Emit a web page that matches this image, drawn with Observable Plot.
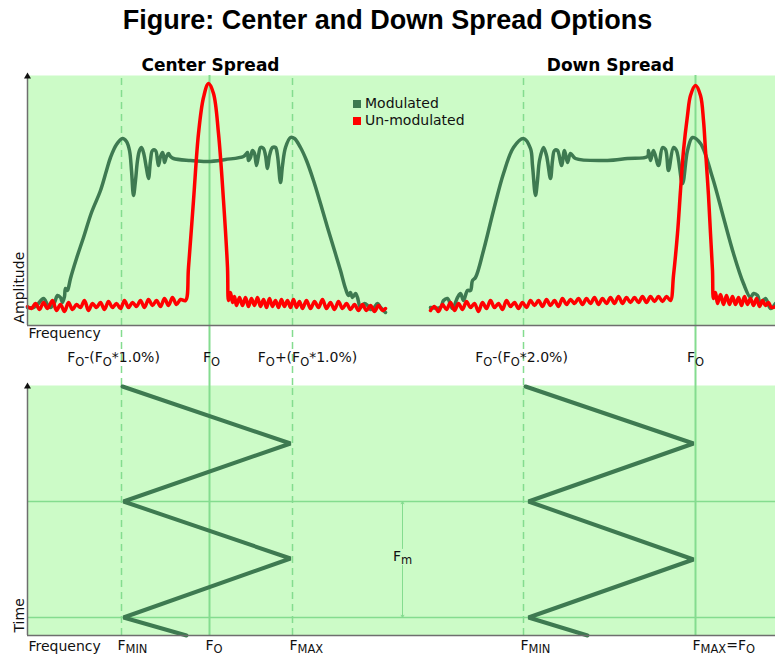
<!DOCTYPE html>
<html><head><meta charset="utf-8">
<script src="https://cdn.jsdelivr.net/npm/d3@7"></script>
<script src="https://cdn.jsdelivr.net/npm/@observablehq/plot@0.6"></script>
<style>
body{margin:0;background:#fff;width:775px;position:relative;}
#title{box-sizing:border-box;height:45px;padding-top:5px;line-height:36px;text-align:center;font:bold 27px "Liberation Sans",Arial,sans-serif;color:#000;overflow:hidden;}
svg{display:block;}
#legend{position:absolute;left:353px;top:95px;font:14px "DejaVu Sans",sans-serif;line-height:17px;color:#111;}
#legend .sw{display:inline-block;width:8px;height:8px;margin-right:4px;vertical-align:0px;}
</style></head><body>
<div id="title">Figure: Center and Down Spread Options</div>
<div id="top"></div>
<div id="bottom"></div>
<div id="legend"></div>
<script>
// ---------- data (frequency in arbitrary units, amplitude / time in arbitrary units) ----------
const modulatedCenter = [[0,9],[3,9],[5,10.5],[8,13.5],[10,10.5],[11.5,9],[13.5,11.5],[15,15],[16.5,14],[17.5,11.5],[18.5,14.5],[19,18.5],[20,17.5],[20.5,19],[21.5,23.5],[24.5,33.5],[28,44],[32,56.5],[36.5,67.5],[39.5,77.5],[41.5,84],[44.5,90.5],[47.5,93.5],[49.5,92],[51,87.5],[52,77.5],[53,65],[54,72.5],[55,82.5],[56,87.5],[57,89],[58,86.5],[59.5,78.5],[60.5,73.5],[61.5,82.5],[62.5,87.5],[64,87.5],[65,82.5],[65.5,80],[66.5,84.5],[67.5,86.5],[68,85],[68.5,81.5],[69.5,84.5],[70.5,86],[71.5,84.5],[73,83.5],[81.5,82.5],[90,82],[99,83],[108,84.5],[109.5,86],[110,86.5],[110.5,82.5],[111.5,84],[112.5,87.5],[113.5,86],[114.5,80],[115.5,85],[116.5,89],[118,88.5],[119,85],[120,78.5],[121,85],[122.5,89],[124,89],[125,85],[126.5,71.5],[127.5,80],[129,89],[131.5,94],[133.5,93.5],[136.5,89],[139.5,82.5],[143,72.5],[146.5,61],[150,49],[153.5,37.5],[156.5,27.5],[159,18.5],[160.5,15],[161.5,16.5],[162.5,14],[164,16],[165,14],[166.5,9],[168.5,11],[170,10],[171.5,8],[173,8.5],[175,11],[176.5,9],[178,7.5],[179,6.5]];
const unmodulatedCenter = [[0,9.5],[2,8.5],[4,11],[6,8],[8,11.5],[10,8.5],[12.5,12.5],[14.5,7.5],[16.5,10.5],[18.5,7],[20.5,11.5],[22.5,8],[24.5,10.5],[26.5,9],[28.5,12.5],[30.5,7.5],[32.5,11],[34.5,9],[36.5,11.5],[38.5,8],[40.5,12],[42.5,9],[44.5,11],[46.5,8.5],[48.5,12.5],[50.5,9],[52.5,11.5],[54.5,9.5],[56.5,12.5],[58.5,9],[60.5,13],[62.5,10],[64.5,12.5],[66.5,9.5],[68.5,13.5],[70.5,10],[72.5,14],[74.5,10.5],[76.5,13],[79,12.5],[80.5,29],[83,62.5],[85.5,96],[88,114],[90.5,121],[93,116],[95.5,96],[98,62.5],[100,29],[100.5,12.5],[101.5,16.5],[102.5,11.5],[103.5,14.5],[104.5,10],[106,14],[107.5,10],[109,14],[110.5,9.5],[112,13.5],[113.5,10],[115,14],[116.5,9.5],[118,13],[119.5,9],[121,13.5],[122.5,9.5],[124,12.5],[125.5,9],[127,13],[128.5,9.5],[130,12.5],[131.5,9],[133,13],[134.5,9],[136,12],[137.5,8.5],[139.5,12.5],[141.5,8.5],[143.5,12],[145.5,9],[147.5,13],[149.5,8.5],[151.5,11.5],[153.5,8],[155.5,12],[157.5,8.5],[159.5,11],[161.5,8],[163.5,10.5],[165.5,7.5],[167.5,10.5],[169.5,7.5],[171.5,10],[173.5,7],[175.5,10],[177.5,7.5],[179,8.5]];
const modulatedDown = [[201.5,9],[206.5,9],[208,12.5],[210,13.5],[212.5,8.5],[215,14],[216.5,16],[218,12.5],[220,17.5],[221.5,17.5],[222.5,22.5],[224,24],[228,37.5],[233,57.5],[238,76],[243,89],[248,93.5],[251.5,88.5],[252.5,80],[254,65],[255,72.5],[256,82.5],[258,89],[259.5,85],[261.5,73.5],[262.5,82.5],[263.5,87.5],[265,87.5],[267,80],[268.5,87.5],[270,81.5],[271.5,86],[274,83.5],[290,82.5],[300,83.5],[310,84.5],[310.5,87.5],[311.5,82.5],[313,87.5],[315.5,80],[317.5,89],[319,88],[320.5,77.5],[323,89],[324.5,87.5],[327.5,71],[330,87.5],[332.5,94],[336.5,91],[342.5,74],[348,54],[353,36],[358,21],[361.5,14],[363,16],[365,15],[366.5,11],[369,13.5],[371.5,8.5],[374,11]];
const unmodulatedDown = [[201.5,7.5],[203.5,9.5],[205.5,7],[207.5,10.5],[209.5,8],[211.5,11.5],[213.5,7.5],[215.5,11],[217.5,8],[219.5,12],[221.5,9],[223.5,11],[225.5,7],[227.5,11.5],[229.5,8.5],[231.5,12.5],[233.5,9],[235.5,11],[237.5,8],[239.5,12.5],[241.5,9.5],[243.5,11.5],[245.5,8.5],[247.5,11.5],[249.5,9],[251.5,12.5],[253.5,10],[255.5,12.5],[257.5,9.5],[259.5,13],[261.5,10],[263.5,12.5],[265.5,9.5],[267.5,13.5],[269.5,10.5],[271.5,13],[273.5,11],[275.5,13.5],[277.5,10.5],[279.5,13.5],[281.5,11],[283.5,14],[285.5,10.5],[287.5,13.5],[289.5,11],[291.5,14],[293.5,11],[295.5,14.5],[297.5,11],[299.5,14],[301.5,11.5],[303.5,14],[305.5,11.5],[307.5,14.5],[309.5,11.5],[311.5,14.5],[313.5,12],[315.5,14.5],[317.5,12],[319.5,14.5],[321.5,12.5],[323,25],[325,46],[326.5,67.5],[328,87.5],[330,105],[331.5,115],[334,120],[336.5,115],[338,102.5],[339,87.5],[340.5,65],[341.5,46],[342.5,27.5],[343,13.5],[344,16.5],[345,11],[346.5,15.5],[348,10.5],[349.5,15],[351,10.5],[352.5,14.5],[354,10.5],[355.5,14],[357,10],[358.5,14.5],[360,10.5],[361.5,13.5],[363,10],[364.5,13.5],[366,9.5],[367.5,12.5],[369,10],[370.5,11.5],[372,9],[374,9.5]];

const sweepCenter = [[47.5,124.5],[131.5,96],[48,67],[131.5,38.5],[48,9],[79.5,0]];
const sweepDown = [[249,124.5],[333,96],[250.5,67],[333,38],[250.5,9],[280,0]];

const guideFreqs = [47, 91, 132.5, 248, 334];
const guideDashed = [true, false, true, true, false];
const periodTimes = [67, 9];
const fmFreq = 187.5;

const panelTitles = ["Center Spread", "Down Spread"];
const panelTitleFreqs = [91.5, 291.5];
const topTickLabels = ["F{O}-(F{O}*1.0%)", "F{O}", "F{O}+(F{O}*1.0%)", "F{O}-(F{O}*2.0%)", "F{O}"];
const topTickFreqs = [43, 92, 140, 247, 334];
const bottomTickLabels = ["F{MIN}", "F{O}", "F{MAX}", "F{MIN}", "F{MAX}=F{O}"];
const bottomTickFreqs = [45, 89, 131, 246.5, 332.5];
const legendLabels = ["Modulated", "Un-modulated"];

// ---------- styles ----------
const BG = "#ccfbc7", GUIDE = "#84dc8f", DARK = "#3e7a51", RED = "#ff0000", AXIS = "#6e6e6e";
const FONT = "'DejaVu Sans', Verdana, sans-serif";
const X_DOMAIN = [0, 374];

const rows = (pairs, panel, key) => pairs.map(([f, v]) => ({f, [key]: v, panel}));
const modulated = [...rows(modulatedCenter, "center", "a"), ...rows(modulatedDown, "down", "a")];
const unmodulated = [...rows(unmodulatedCenter, "center", "a"), ...rows(unmodulatedDown, "down", "a")];
const sweep = [...rows(sweepCenter, "center", "t"), ...rows(sweepDown, "down", "t")];
const guides = guideFreqs.map((f, i) => ({f, dashed: guideDashed[i]}));
const topTicks = topTickLabels.map((label, i) => ({label, f: topTickFreqs[i]}));
const bottomTicks = bottomTickLabels.map((label, i) => ({label, f: bottomTickFreqs[i]}));
const titles = panelTitles.map((label, i) => ({label, f: panelTitleFreqs[i]}));

function applySubscripts(svg, shift) {
  svg.querySelectorAll("text").forEach(t => {
    const s = t.textContent;
    if (!s.includes("{")) return;
    t.textContent = "";
    let shifted = false;
    for (const part of s.split(/(\{[^}]*\})/)) {
      if (!part) continue;
      const ts = document.createElementNS("http://www.w3.org/2000/svg", "tspan");
      if (part[0] === "{") {
        ts.textContent = part.slice(1, -1);
        ts.setAttribute("font-size", "0.82em");
        ts.setAttribute("dy", shift);
        shifted = true;
      } else {
        ts.textContent = part;
        if (shifted) { ts.setAttribute("dy", -shift); shifted = false; }
      }
      t.appendChild(ts);
    }
  });
}

const guideMarks = (y1, y2) => [
  Plot.ruleX(guides.filter(d => d.dashed), {x: "f", y1, y2, stroke: GUIDE, strokeWidth: 1.5, strokeDasharray: "7,5"}),
  Plot.ruleX(guides.filter(d => !d.dashed), {x: "f", y1, y2, stroke: GUIDE, strokeWidth: 2})
];
const axisMarks = () => [
  Plot.ruleY([0], {x1: X_DOMAIN[0], x2: X_DOMAIN[1], stroke: AXIS, strokeWidth: 1.5}),
  Plot.ruleX([0], {y1: 0, y2: 124, stroke: AXIS, strokeWidth: 1.5}),
  Plot.dot([0], {x: 0, y: 124.5, symbol: "triangle", r: 2.6, fill: "#111", stroke: "none"})
];

// ---------- top: spectrum ----------
const topPlot = Plot.plot({
  width: 775, height: 340,
  marginLeft: 27, marginRight: 0, marginTop: 30, marginBottom: 60,
  x: {domain: X_DOMAIN, axis: null},
  y: {domain: [0, 125], axis: null},
  style: `font-family:${FONT};font-size:14px;overflow:visible;background:transparent;color:#111;`,
  marks: [
    Plot.frame({fill: BG, stroke: "none"}),
    ...guideMarks(-30, 125),
    Plot.line(modulated, {x: "f", y: "a", z: "panel", stroke: DARK, strokeWidth: 3.5, curve: "catmull-rom", strokeLinejoin: "round"}),
    Plot.line(unmodulated, {x: "f", y: "a", z: "panel", stroke: RED, strokeWidth: 3.5, curve: "catmull-rom", strokeLinejoin: "round"}),
    ...axisMarks(),
    Plot.text(titles, {x: "f", text: "label", frameAnchor: "top", lineAnchor: "bottom", dy: -5, fontWeight: "bold", fontSize: 17, fill: "#000"}),
    Plot.text(["Frequency"], {frameAnchor: "bottom-left", textAnchor: "start", lineAnchor: "bottom", dx: 1, dy: 12, fontSize: 14}),
    Plot.text(topTicks, {x: "f", text: "label", frameAnchor: "bottom", lineAnchor: "bottom", dy: 36, fontSize: 14}),
    Plot.text(["Amplitude"], {frameAnchor: "bottom-left", textAnchor: "start", lineAnchor: "bottom", rotate: -90, dx: -4, dy: -2, fontSize: 14})
  ]
});
applySubscripts(topPlot, 4);
document.getElementById("top").appendChild(topPlot);

// ---------- bottom: frequency vs time ----------
const bottomPlot = Plot.plot({
  width: 775, height: 271,
  marginLeft: 27, marginRight: 0, marginTop: 0, marginBottom: 21,
  x: {domain: X_DOMAIN, axis: null},
  y: {domain: [0, 125], axis: null},
  style: `font-family:${FONT};font-size:14px;overflow:visible;background:transparent;color:#111;`,
  marks: [
    Plot.frame({fill: BG, stroke: "none"}),
    Plot.ruleY(periodTimes, {x1: X_DOMAIN[0], x2: X_DOMAIN[1], stroke: GUIDE, strokeWidth: 1.5}),
    ...guideMarks(0, 125),
    Plot.line(sweep, {x: "f", y: "t", z: "panel", stroke: DARK, strokeWidth: 4, strokeLinejoin: "miter"}),
    Plot.arrow([{from: 43.5, to: periodTimes[0]}, {from: 35, to: periodTimes[1]}], {x1: () => fmFreq, x2: () => fmFreq, y1: "from", y2: "to", stroke: GUIDE, strokeWidth: 1, headLength: 4}),
    Plot.text(["F{m}"], {x: () => fmFreq, y: () => 39.5, fontSize: 14}),
    ...axisMarks(),
    Plot.text(["Frequency"], {frameAnchor: "bottom-left", textAnchor: "start", lineAnchor: "bottom", dx: 1, dy: 15, fontSize: 14}),
    Plot.text(bottomTicks, {x: "f", text: "label", frameAnchor: "bottom", textAnchor: "start", lineAnchor: "bottom", dy: 14, fontSize: 14}),
    Plot.text(["Time"], {frameAnchor: "bottom-left", textAnchor: "start", lineAnchor: "bottom", rotate: -90, dx: -4, dy: -3, fontSize: 14})
  ]
});
applySubscripts(bottomPlot, 3);
document.getElementById("bottom").appendChild(bottomPlot);

// ---------- legend ----------
const legendColors = [DARK, RED];
document.getElementById("legend").innerHTML = legendLabels
  .map((l, i) => `<div><span class="sw" style="background:${legendColors[i]}"></span>${l}</div>`).join("");
</script>
</body></html>
